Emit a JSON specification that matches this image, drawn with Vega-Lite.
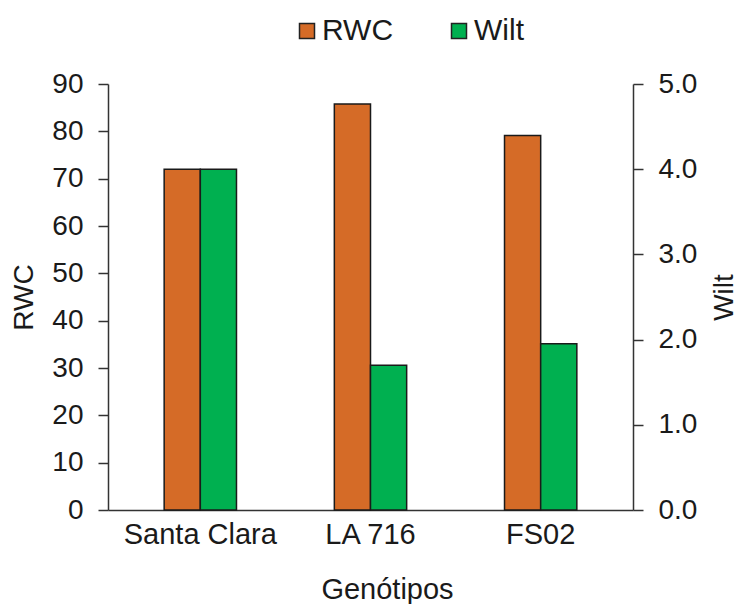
{
  "$schema": "https://vega.github.io/schema/vega-lite/v6.json",
  "width": 525,
  "height": 426,
  "autosize": {"type": "none"},
  "padding": {"left": 108, "top": 84, "right": 105, "bottom": 94},
  "config": {
    "font": "Liberation Sans",
    "view": {"stroke": null},
    "axis": {
      "labelFont": "Liberation Sans",
      "titleFont": "Liberation Sans",
      "labelColor": "#1a1a1a",
      "titleColor": "#1a1a1a",
      "titleFontWeight": "normal",
      "domainColor": "#333333",
      "tickColor": "#333333",
      "domainWidth": 1.5,
      "tickWidth": 1.5,
      "grid": false,
      "labelFontSize": 28,
      "titleFontSize": 28
    },
    "legend": {
      "labelFont": "Liberation Sans",
      "labelFontSize": 30,
      "labelColor": "#1a1a1a"
    }
  },
  "data": {
    "values": [
      {"Genotipo": "Santa Clara", "Serie": "RWC", "Valor": 72.0},
      {"Genotipo": "Santa Clara", "Serie": "Wilt", "Valor": 4.0},
      {"Genotipo": "LA 716", "Serie": "RWC", "Valor": 85.8},
      {"Genotipo": "LA 716", "Serie": "Wilt", "Valor": 1.7},
      {"Genotipo": "FS02", "Serie": "RWC", "Valor": 79.1},
      {"Genotipo": "FS02", "Serie": "Wilt", "Valor": 1.95}
    ]
  },
  "encoding": {
    "x": {
      "field": "Genotipo",
      "type": "nominal",
      "sort": ["Santa Clara", "LA 716", "FS02"],
      "scale": {"paddingInner": 0.575, "paddingOuter": 0.33},
      "axis": {"title": "Genótipos", "labelAngle": 0, "ticks": false, "labelPadding": 10, "labelFontSize": 29, "titlePadding": 26, "titleX": 279, "titleFontSize": 29}
    },
    "xOffset": {"field": "Serie", "type": "nominal", "scale": {"domain": ["RWC", "Wilt"], "paddingInner": 0}},
    "color": {
      "field": "Serie",
      "type": "nominal",
      "scale": {"domain": ["RWC", "Wilt"], "range": ["#D56B27", "#00B050"]},
      "legend": {
        "title": null,
        "orient": "none",
        "direction": "horizontal",
        "legendX": 184,
        "legendY": -68,
        "symbolType": "square",
        "symbolSize": 225,
        "symbolStrokeColor": "#222222",
        "symbolStrokeWidth": 1.5,
        "symbolOpacity": 1,
        "columnPadding": 50,
        "labelOffset": 0
      }
    }
  },
  "layer": [
    {
      "transform": [{"filter": "datum.Serie === 'RWC'"}],
      "mark": {"type": "bar", "stroke": "#1a1a1a", "strokeWidth": 1.5, "opacity": 1},
      "encoding": {
        "y": {
          "field": "Valor",
          "type": "quantitative",
          "scale": {"domain": [0, 90], "nice": false},
          "axis": {"title": "RWC", "orient": "left", "values": [0, 10, 20, 30, 40, 50, 60, 70, 80, 90], "tickSize": 10, "labelPadding": 15, "titlePadding": 13}
        }
      }
    },
    {
      "transform": [{"filter": "datum.Serie === 'Wilt'"}],
      "mark": {"type": "bar", "stroke": "#1a1a1a", "strokeWidth": 1.5, "opacity": 1},
      "encoding": {
        "y": {
          "field": "Valor",
          "type": "quantitative",
          "scale": {"domain": [0, 5], "nice": false},
          "axis": {"title": "Wilt", "orient": "right", "values": [0, 1, 2, 3, 4, 5], "format": ".1f", "tickSize": 10, "labelPadding": 15, "titlePadding": 42, "titleAngle": 270}
        }
      }
    }
  ],
  "resolve": {"scale": {"y": "independent"}}
}
